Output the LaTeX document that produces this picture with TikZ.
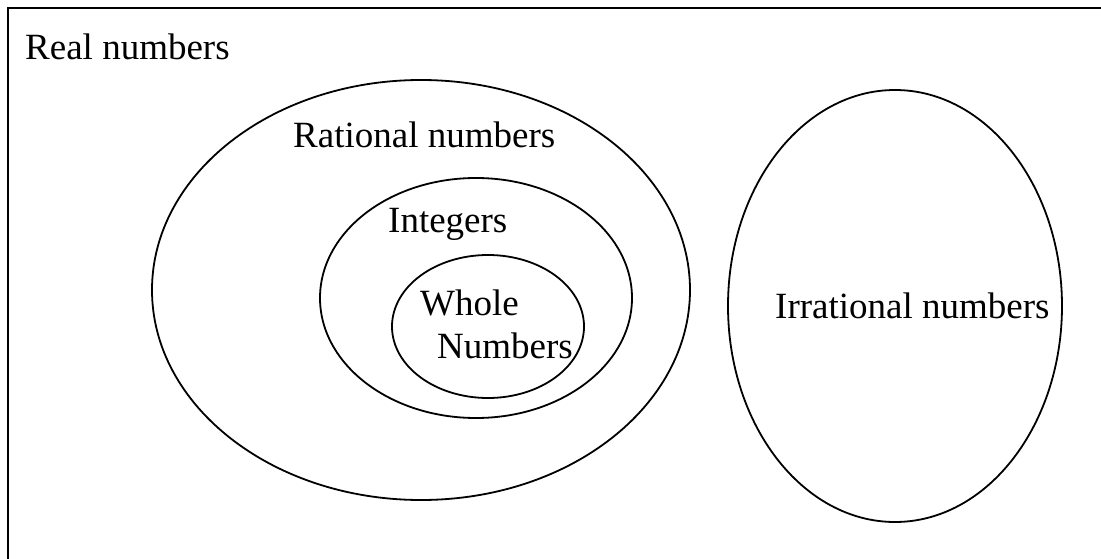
\documentclass[tikz,border=0pt]{standalone}
\usepackage{fontspec}
\setmainfont{Liberation Serif}
\begin{document}
\begin{tikzpicture}[x=1pt,y=-1pt,
  set/.style={draw=black,line width=1.8pt},
  lbl/.style={anchor=base west,inner sep=0pt,font=\fontsize{37}{44}\selectfont}]
\useasboundingbox (0,0) rectangle (1101,559);
% universe frame (extends beyond the image on right and bottom)
\draw[line width=2pt] (8,570) -- (8,8) -- (1110,8);
% sets
\draw[set] (421,290) ellipse [x radius=269, y radius=210];
\draw[set] (476,298) ellipse [x radius=156, y radius=120];
\draw[set] (488,326.5) ellipse [x radius=96, y radius=71.5];
\draw[set] (895,306) ellipse [x radius=167, y radius=216];
% labels
\node[lbl] (real) at (25,60) {Real numbers};
\node[lbl] (rat) at (293,148) {Rational numbers};
\node[lbl] (int) at (388,232) {Integers};
\node[lbl] (whole) at (420,315) {Whole};
\node[lbl] (wnum) at (437,358) {Numbers};
\node[lbl] (irr) at (775,318) {Irrational numbers};
\end{tikzpicture}
\end{document}
